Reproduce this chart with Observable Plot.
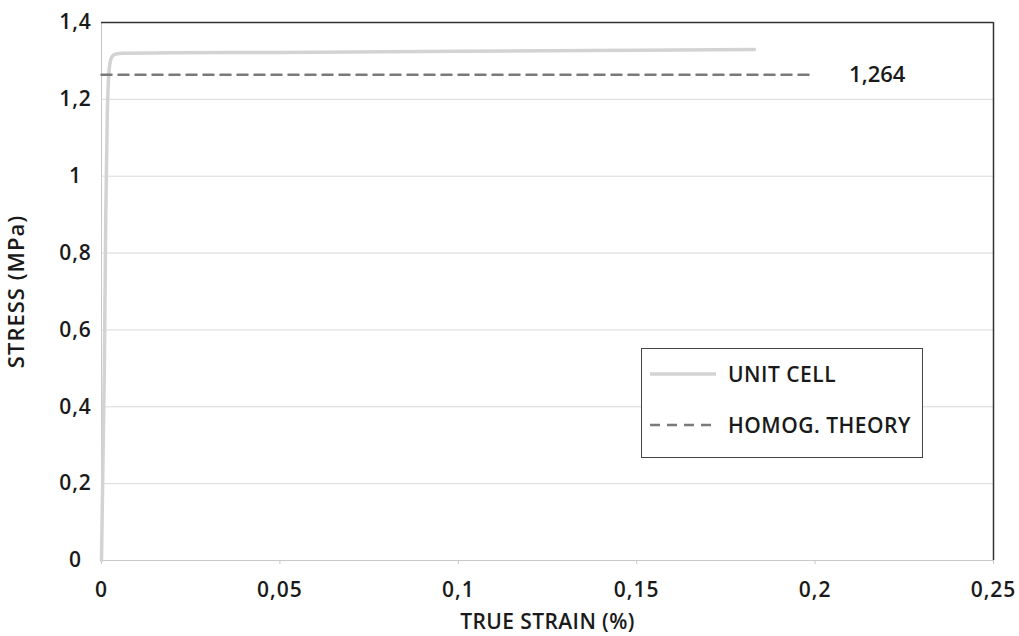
<!DOCTYPE html>
<html><head><meta charset="utf-8">
<script src="https://cdn.jsdelivr.net/npm/d3@7"></script>
<script src="https://cdn.jsdelivr.net/npm/@observablehq/plot@0.6"></script>
<style>
body{margin:0;background:#fff;font-family:"Open Sans",sans-serif;}
#wrap{position:relative;width:1019px;height:636px;}
#wrap svg g[aria-label="x-axis tick label"], #wrap svg g[aria-label="y-axis tick label"]{font-size:21px;font-weight:600;letter-spacing:1px;}
#wrap svg g[aria-label="x-axis label"]{font-size:21px;font-weight:600;letter-spacing:0.4px;}
#wrap svg g[aria-label="y-axis label"]{font-size:22px;font-weight:600;letter-spacing:1px;}
#wrap svg g[aria-label="text"]{font-size:22px;font-weight:600;}
#legend{position:absolute;left:641px;top:348px;width:282px;height:110px;border:1.5px solid #444;background:#fff;box-sizing:border-box;font-family:"Open Sans",sans-serif;font-size:21px;font-weight:600;color:#1a1a1a;letter-spacing:0.5px;}
#legend .it{position:absolute;left:8px;display:flex;align-items:center;}
#legend svg{margin-right:12px;}
</style></head><body>
<div id="wrap"></div>
<script>
const strainUnit = [0, 0.0008, 0.0012, 0.0016, 0.002, 0.0025, 0.003, 0.004, 0.006, 0.02, 0.05, 0.1, 0.15, 0.183];
const stressUnit = [0, 0.5, 0.9, 1.15, 1.26, 1.3, 1.312, 1.318, 1.32, 1.321, 1.322, 1.325, 1.328, 1.33];
const strainHomog = [0, 0.2];
const stressHomog = [1.264, 1.264];
const homogLabel = "1,264";
const xTicks = [0, 0.05, 0.1, 0.15, 0.2, 0.25];
const yTicks = [0, 0.2, 0.4, 0.6, 0.8, 1, 1.2, 1.4];
const seriesNames = ["UNIT CELL", "HOMOG. THEORY"];

const unit = strainUnit.map((x, i) => ({x, y: stressUnit[i]}));
const homog = strainHomog.map((x, i) => ({x, y: stressHomog[i]}));
const fmt = d => String(d).replace(".", ",");

const plot = Plot.plot({
  width: 1019, height: 636,
  marginLeft: 101, marginRight: 26, marginTop: 22, marginBottom: 76,
  style: {fontFamily: "Open Sans, sans-serif", color: "#1a1a1a", background: "#fff"},
  x: {domain: [0, 0.25]},
  y: {domain: [0, 1.4]},
  marks: [
    Plot.ruleY(yTicks.filter(d => d > 0 && d < 1.4), {stroke: "#d9d9d9", strokeWidth: 1}),
    Plot.ruleY([0], {stroke: "#c8c8c8"}),
    Plot.ruleX([0], {stroke: "#c8c8c8"}),
    Plot.ruleY([1.4], {stroke: "#333", strokeWidth: 1.5}),
    Plot.ruleX([0.25], {stroke: "#333", strokeWidth: 1.5}),
    Plot.axisX({ticks: xTicks, tickFormat: fmt, stroke: "#c8c8c8", tickSize: 4, tickPadding: 18, label: null}),
    Plot.axisX({ticks: [], label: "TRUE STRAIN (%)", labelAnchor: "center", labelOffset: 68, labelArrow: "none"}),
    Plot.axisY({ticks: yTicks, tickFormat: fmt, tickSize: 0, tickPadding: 26, textAnchor: "middle", label: null}),
    Plot.axisY({ticks: [], label: "STRESS (MPa)", labelAnchor: "center", labelOffset: 93, labelArrow: "none"}),
    Plot.line(unit, {x: "x", y: "y", stroke: "#d3d3d3", strokeWidth: 3.5, curve: "monotone-x"}),
    Plot.line(homog, {x: "x", y: "y", stroke: "#7a7a7a", strokeWidth: 2.5, strokeDasharray: "10,7"}),
    Plot.text([homog[homog.length - 1]], {x: "x", y: "y", text: () => homogLabel, dx: 34, textAnchor: "start", fill: "#1a1a1a"})
  ]
});
document.getElementById("wrap").appendChild(plot);

const leg = document.createElement("div");
leg.id = "legend";
leg.innerHTML = `
<div class="it" style="top:11px"><svg width="66" height="10"><line x1="0" y1="5" x2="66" y2="5" stroke="#d3d3d3" stroke-width="3.5"/></svg><span>${seriesNames[0]}</span></div>
<div class="it" style="top:62px"><svg width="66" height="10"><line x1="0" y1="5" x2="66" y2="5" stroke="#7a7a7a" stroke-width="2.5" stroke-dasharray="10,7"/></svg><span>${seriesNames[1]}</span></div>`;
document.getElementById("wrap").appendChild(leg);
</script>
</body></html>
